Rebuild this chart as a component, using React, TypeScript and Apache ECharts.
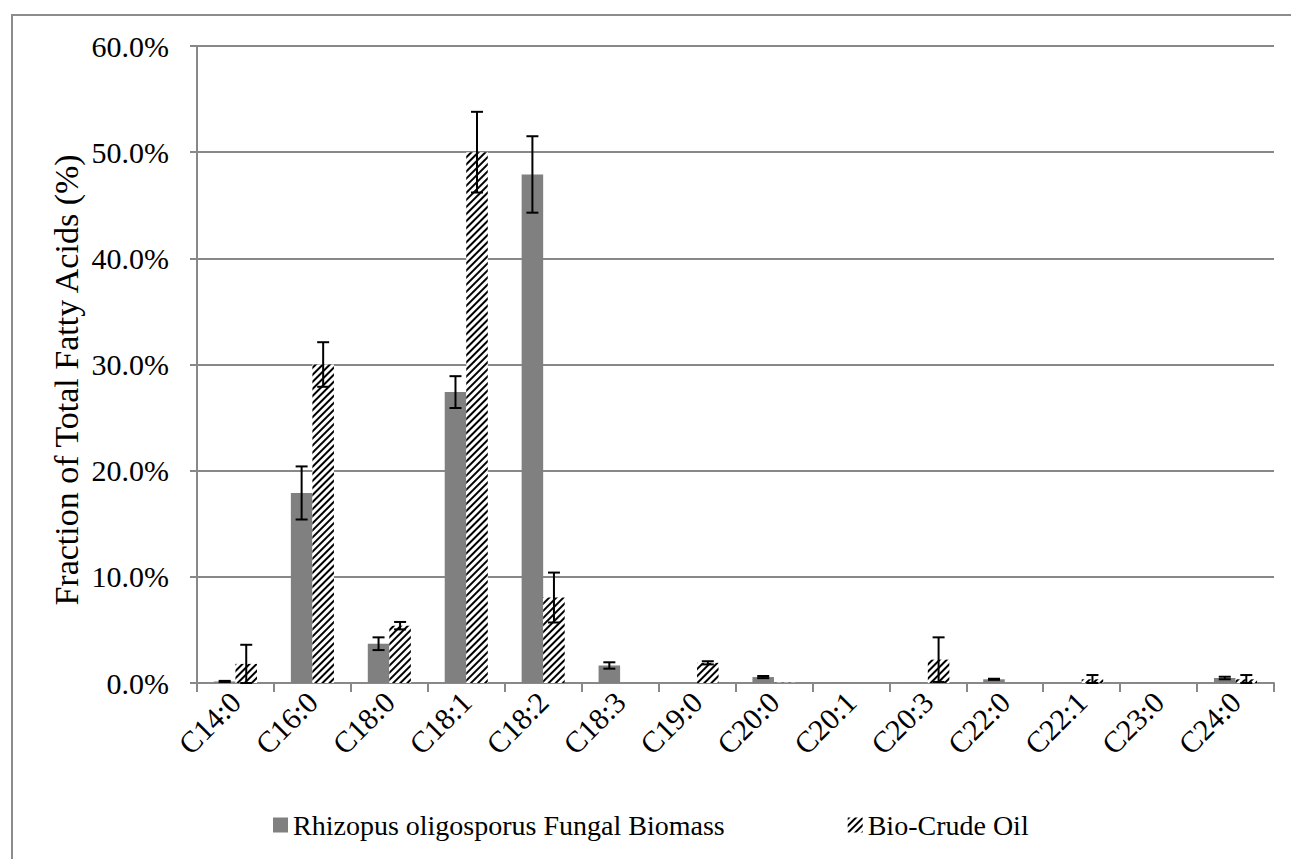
import React, { useEffect, useRef } from "react";
import * as echarts from "echarts";

const categories = ["C14:0", "C16:0", "C18:0", "C18:1", "C18:2", "C18:3", "C19:0", "C20:0", "C20:1", "C20:3", "C22:0", "C22:1", "C23:0", "C24:0"];
const biomassValues = [0.15, 17.9, 3.7, 27.4, 47.9, 1.65, 0.03, 0.56, 0.03, 0.03, 0.35, 0.03, 0.03, 0.47];
const biomassErrors = [0.05, 2.5, 0.6, 1.5, 3.6, 0.3, 0, 0.1, 0, 0, 0.05, 0, 0, 0.12];
const crudeValues = [1.8, 30.0, 5.4, 50.0, 8.05, 0, 1.9, 0.03, 0, 2.2, 0, 0.35, 0, 0.35];
const crudeErrors = [1.8, 2.1, 0.35, 3.8, 2.35, 0, 0.15, 0, 0, 2.1, 0, 0.4, 0, 0.4];
const yTicks = { min: 0, max: 60, interval: 10 };
const seriesNames = ["Rhizopus oligosporus Fungal Biomass", "Bio-Crude Oil"];
const yAxisTitle = "Fraction of Total Fatty Acids (%)";

const FONT = "Times New Roman, Liberation Serif, Tinos, DejaVu Serif, serif";
const BAR_FRAC = 0.28;

export default function App() {
  const ref = useRef<HTMLDivElement>(null);
  useEffect(() => {
    if (!ref.current) return;
    const chart = echarts.init(ref.current, undefined, { renderer: "svg" });
    const hatch = {
      symbol: "rect",
      symbolSize: 1,
      dashArrayX: [1, 0],
      dashArrayY: [1.2, 2.4],
      rotation: -Math.PI / 4,
      color: "#000",
      backgroundColor: "#fff",
    };
    const errData = (vals: number[], errs: number[], side: number) =>
      vals.map((v, i) => [i, v, errs[i], side]);
    const renderErr = (params: any, api: any) => {
      const i = api.value(0);
      const v = api.value(1);
      const e = api.value(2);
      const side = api.value(3);
      if (!e) return null;
      const band = api.size([1, 0])[0];
      const off = side * band * BAR_FRAC / 2;
      const top = api.coord([i, v + e]);
      const bot = api.coord([i, Math.max(0, v - e)]);
      const x = top[0] + off;
      const cap = 6;
      const style = { stroke: "#000", lineWidth: 2 };
      return {
        type: "group",
        children: [
          { type: "line", shape: { x1: x, y1: top[1], x2: x, y2: bot[1] }, style },
          { type: "line", shape: { x1: x - cap, y1: top[1], x2: x + cap, y2: top[1] }, style },
          { type: "line", shape: { x1: x - cap, y1: bot[1], x2: x + cap, y2: bot[1] }, style },
        ],
      };
    };
    chart.setOption({
      animation: false,
      backgroundColor: "#fff",
      textStyle: { fontFamily: FONT, color: "#000" },
      graphic: [
        {
          type: "rect",
          shape: { x: 12, y: 15, width: 1290, height: 860 },
          style: { fill: "none", stroke: "#8c8c8c", lineWidth: 2 },
          silent: true,
          z: -1,
        },
        {
          type: "text",
          x: 66,
          y: 380,
          rotation: Math.PI / 2,
          silent: true,
          style: {
            text: yAxisTitle,
            fontFamily: FONT,
            fontSize: 34,
            fill: "#000",
            textAlign: "center",
            textVerticalAlign: "middle",
          },
        },
      ],
      grid: { left: 197, right: 17, top: 46, bottom: 176, containLabel: false },
      legend: {
        bottom: 15,
        left: 268,
        itemWidth: 15,
        itemHeight: 15,
        itemGap: 123,
        icon: "rect",
        textStyle: { fontFamily: FONT, fontSize: 28, color: "#000" },
        data: seriesNames,
      },
      xAxis: {
        type: "category",
        data: categories,
        axisLine: { lineStyle: { color: "#888", width: 2 } },
        axisTick: { show: true, length: 9, lineStyle: { color: "#888", width: 2 } },
        axisLabel: { rotate: 45, fontFamily: FONT, fontSize: 30, color: "#000", margin: 14, interval: 0 },
      },
      yAxis: {
        type: "value",
        min: yTicks.min,
        max: yTicks.max,
        interval: yTicks.interval,
        axisLine: { show: true, lineStyle: { color: "#888", width: 2 } },
        axisTick: { show: true, length: 7, lineStyle: { color: "#888", width: 2 } },
        axisLabel: {
          fontFamily: FONT,
          fontSize: 30,
          color: "#000",
          margin: 28,
          formatter: (v: number) => v.toFixed(1) + "%",
        },
        splitLine: { lineStyle: { color: "#888", width: 2 } },
      },
      series: [
        {
          name: seriesNames[0],
          type: "bar",
          data: biomassValues,
          barWidth: BAR_FRAC * 100 + "%",
          barGap: "0%",
          itemStyle: { color: "#808080" },
        },
        {
          name: seriesNames[1],
          type: "bar",
          data: crudeValues,
          barWidth: BAR_FRAC * 100 + "%",
          barGap: "0%",
          itemStyle: { color: "#fff", decal: hatch },
        },
        {
          type: "custom",
          data: errData(biomassValues, biomassErrors, -1),
          renderItem: renderErr,
          z: 10,
          silent: true,
        },
        {
          type: "custom",
          data: errData(crudeValues, crudeErrors, 1),
          renderItem: renderErr,
          z: 10,
          silent: true,
        },
      ],
    });
    return () => chart.dispose();
  }, []);
  return (
    <div
      ref={ref}
      style={{ position: "fixed", left: 0, top: 0, width: 1291, height: 859, background: "#fff" }}
    />
  );
}
